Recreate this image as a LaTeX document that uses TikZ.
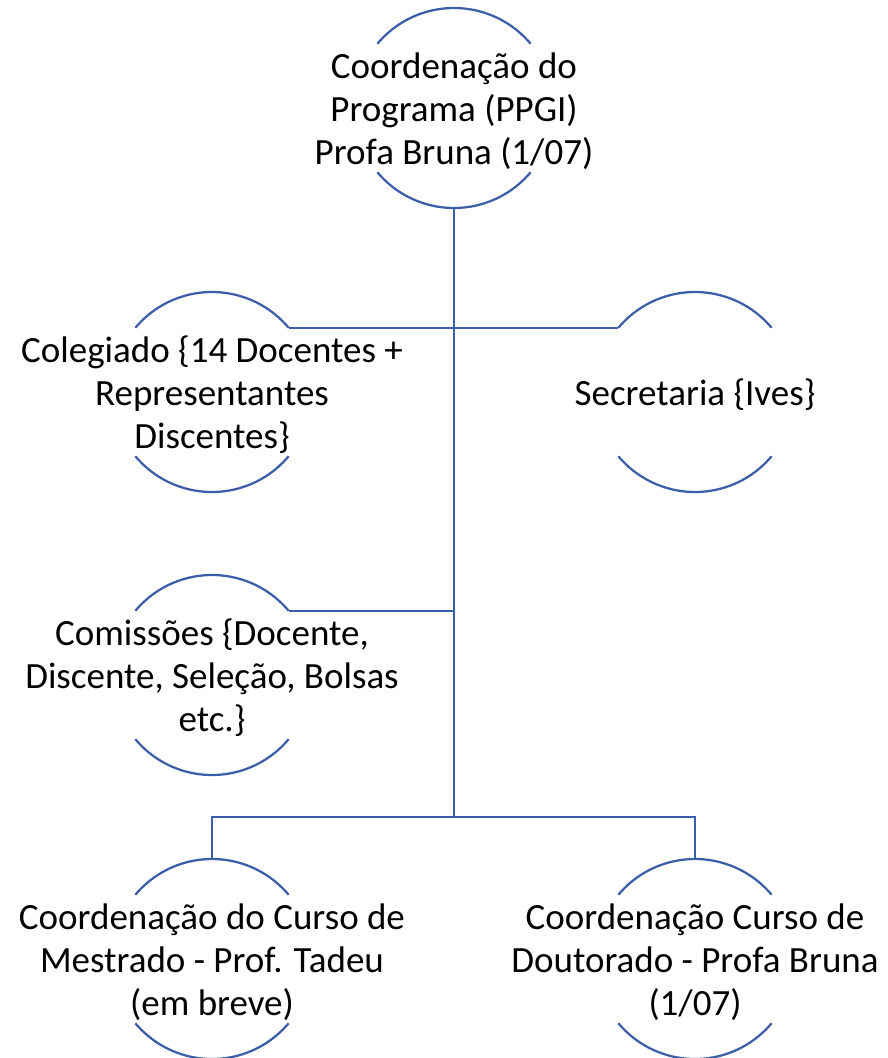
\documentclass[tikz,border=0pt]{standalone}
\usepackage{fontspec}
\setmainfont{Carlito}
\usetikzlibrary{positioning}
\definecolor{rimblue}{RGB}{59,94,168}

\begin{document}
\begin{tikzpicture}[
  x=1pt, y=1pt,
  unit/.style={circle, minimum size=200pt, inner sep=0pt, outer sep=0pt},
  caption/.style={align=center, yshift=-3pt, font=\fontsize{37}{43}\selectfont},
  rim/.style={draw=rimblue, line width=2.25pt},
  line/.style={draw=rimblue, line width=2.25pt}
]
\useasboundingbox (0,0) rectangle (887,-1058);

\node[unit, label={[caption]center:Coordenação do\\Programa (PPGI)\\Profa Bruna (1/07)}] (coord) at (454,-108) {};
\node[unit, label={[caption]center:Colegiado \{14 Docentes +\\Representantes\\Discentes\}}] (coleg) at (212,-392) {};
\node[unit, label={[caption]center:Secretaria \{Ives\}}] (secr) at (695,-392) {};
\node[unit, label={[caption]center:Comissões \{Docente,\\Discente, Seleção, Bolsas\\etc.\}}] (comis) at (212,-675) {};
\node[unit, label={[caption]center:Coordenação do Curso de\\Mestrado - Prof. Tadeu\\(em breve)}] (mestr) at (212,-959) {};
\node[unit, label={[caption]center:Coordenação Curso de\\Doutorado - Profa Bruna\\(1/07)}] (dout) at (695,-959) {};

% open circles: only the top and bottom arcs
\foreach \n in {coord,coleg,secr,comis,mestr,dout}{
  \draw[rim] (\n.40) arc[start angle=40, end angle=140, radius=100pt];
  \draw[rim] (\n.220) arc[start angle=220, end angle=320, radius=100pt];
}

\coordinate (fork) at (454,-817);
\draw[line] (coord.south) -- (fork);
\draw[line] (coleg.40) -- (secr.140);
\draw[line] (comis.40) -- (comis.40 -| fork);
\draw[line] (mestr.north) |- (fork) -| (dout.north);
\end{tikzpicture}
\end{document}
